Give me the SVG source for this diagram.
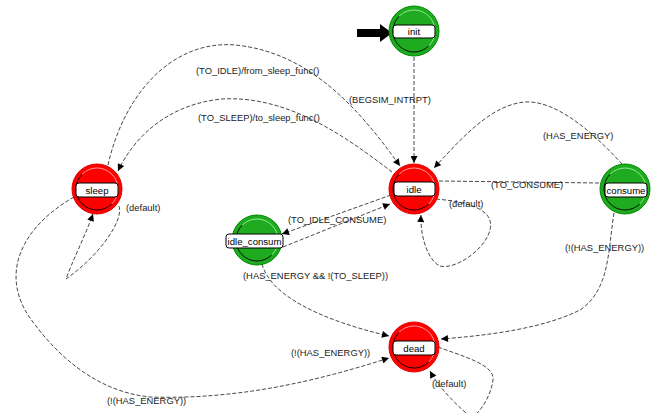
<svg xmlns="http://www.w3.org/2000/svg" xmlns:xlink="http://www.w3.org/1999/xlink" width="652" height="413" viewBox="0 0 652 413">
<style>
.edge{fill:none;stroke:#333;stroke-width:0.9;stroke-dasharray:4 2}
.lbl{font-family:"Liberation Sans",Arial,sans-serif;font-size:9.4px;fill:#222}
.box{fill:#fff;stroke:#000;stroke-width:1}
.ntxt{font-family:"Liberation Sans",Arial,sans-serif;font-size:9.6px;fill:#000;text-anchor:middle}
</style>
<defs>
<marker id="arr" viewBox="0 0 10 10" refX="10" refY="5" markerWidth="8" markerHeight="7" markerUnits="userSpaceOnUse" orient="auto">
<path d="M0,0 L10,5 L0,10 z" fill="#000"/>
</marker>
<g id="redNode">
<circle r="25" fill="#ff0000" stroke="#e00000" stroke-width="1"/>
<path d="M-14.85,-14.85 A21 21 0 0 0 14.85,14.85" fill="none" stroke="#000" stroke-width="0.9"/>
<path d="M-14.85,-14.85 A21 21 0 0 1 14.85,14.85" fill="none" stroke="#ff9a9a" stroke-width="1"/>
</g>
<g id="greenNode">
<circle r="25" fill="#1fab1f" stroke="#008a00" stroke-width="1"/>
<path d="M-14.85,-14.85 A21 21 0 0 0 14.85,14.85" fill="none" stroke="#000" stroke-width="0.9"/>
<path d="M-14.85,-14.85 A21 21 0 0 1 14.85,14.85" fill="none" stroke="#8fe88f" stroke-width="1"/>
</g>
</defs>
<rect width="652" height="413" fill="#fff"/>

<g id="connectors">
<path class="edge" d="M414,57 L414,163" marker-end="url(#arr)"/>
<path class="edge" d="M108,165 C125,90 175,40 235,45 C310,52 360,110 400,166" marker-end="url(#arr)"/>
<path class="edge" d="M392,172 C350,140 290,95 222,99 C170,104 135,135 118,171" marker-end="url(#arr)"/>
<path class="edge" d="M119,206 C124,220 100,255 66,279 C72,262 85,236 93,214" marker-end="url(#arr)"/>
<path class="edge" d="M74,197 C20,228 0,275 30,318 C60,360 100,392 150,397 C240,400 320,380 389,358" marker-end="url(#arr)"/>
<path class="edge" d="M436,199 C470,202 495,210 490,230 C485,250 455,270 440,266 C430,262 420,240 421,215" marker-end="url(#arr)"/>
<path class="edge" d="M439,181 L600,183"/>
<path class="edge" d="M622,164 C600,140 560,100 525,102 C490,105 460,140 434,168" marker-end="url(#arr)"/>
<path class="edge" d="M614,213 C608,250 610,290 580,310 C540,330 480,336 441,339" marker-end="url(#arr)"/>
<path class="edge" d="M391,195 L282,234" marker-end="url(#arr)"/>
<path class="edge" d="M283,247 L390,204" marker-end="url(#arr)"/>
<path class="edge" d="M262,264 C270,295 320,320 389,336" marker-end="url(#arr)"/>
<path class="edge" d="M438,347 C465,357 495,365 493,380 C491,395 482,410 472,418 C462,410 440,390 430,371" marker-end="url(#arr)"/>
<path d="M357,29 L380,29 L380,24 L392,33 L380,42 L380,37 L357,37 z" fill="#000"/>
</g>

<g id="labels">
<text class="lbl" x="349" y="103">(BEGSIM_INTRPT)</text>
<text class="lbl" x="196" y="74">(TO_IDLE)/from_sleep_func()</text>
<text class="lbl" x="198" y="121">(TO_SLEEP)/to_sleep_func()</text>
<text class="lbl" x="543" y="139">(HAS_ENERGY)</text>
<text class="lbl" x="491" y="188">(TO_CONSUME)</text>
<text class="lbl" x="449" y="207">(default)</text>
<text class="lbl" x="126" y="211">(default)</text>
<text class="lbl" x="288" y="223">(TO_IDLE_CONSUME)</text>
<text class="lbl" x="243" y="279">(HAS_ENERGY &amp;&amp; !(TO_SLEEP))</text>
<text class="lbl" x="565" y="251">(!(HAS_ENERGY))</text>
<text class="lbl" x="291" y="356">(!(HAS_ENERGY))</text>
<text class="lbl" x="107" y="404">(!(HAS_ENERGY))</text>
<text class="lbl" x="432" y="387">(default)</text>
</g>

<g id="init">
<use xlink:href="#greenNode" x="414" y="31"/>
<rect class="box" x="393" y="25" width="42" height="13" rx="3"/>
<text class="ntxt" x="414" y="35">init</text>
</g>
<g id="sleep">
<use xlink:href="#redNode" x="97" y="189"/>
<rect class="box" x="76" y="183" width="42" height="14" rx="3"/>
<text class="ntxt" x="97" y="193.5">sleep</text>
</g>
<g id="idle">
<use xlink:href="#redNode" x="414" y="189"/>
<rect class="box" x="394" y="182" width="41" height="14" rx="3"/>
<text class="ntxt" x="414" y="192.5">idle</text>
</g>
<g id="consume">
<use xlink:href="#greenNode" x="625" y="189"/>
<rect class="box" x="605" y="183" width="42" height="14" rx="3"/>
<text class="ntxt" x="626" y="193.5">consume</text>
</g>
<g id="idle_consum">
<use xlink:href="#greenNode" x="257" y="240"/>
<rect class="box" x="226" y="234" width="57" height="14" rx="3"/>
<text class="ntxt" x="254.5" y="244.5">idle_consum</text>
</g>
<g id="dead">
<use xlink:href="#redNode" x="414" y="347"/>
<rect class="box" x="393" y="341" width="42" height="14" rx="3"/>
<text class="ntxt" x="414" y="351.5">dead</text>
</g>
</svg>
